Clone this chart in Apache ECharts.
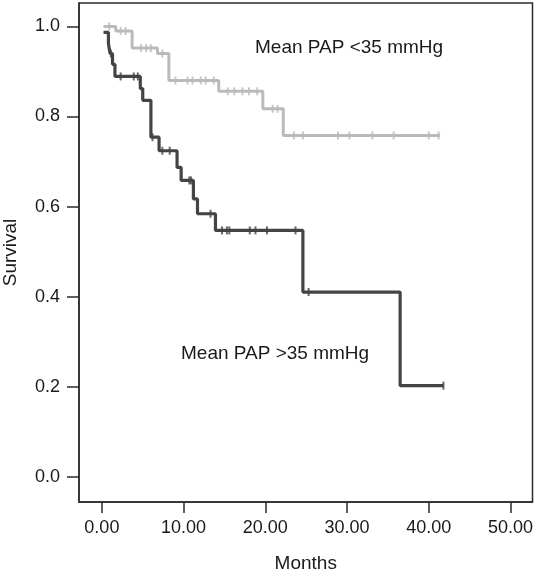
<!DOCTYPE html>
<html>
<head>
<meta charset="utf-8">
<script src="https://cdn.jsdelivr.net/npm/echarts@6/dist/echarts.min.js"></script>
<style>html,body{margin:0;padding:0;background:#fff;}#c{width:538px;height:575px;}</style>
</head>
<body>
<div id="c"></div>
<script>
// Kaplan-Meier data (months, survival)
const lowTimes = [0.2, 1.7, 3.7, 6.8, 8.2, 14.3, 19.7, 22.2, 41.4];
const lowSurv  = [1.000, 0.990, 0.952, 0.940, 0.880, 0.856, 0.817, 0.758, 0.758];
const lowCensor = [0.9, 2.3, 2.9, 4.8, 5.4, 6.0, 7.4, 9.0, 10.5, 11.1, 12.1, 12.7, 13.7, 15.4, 16.2, 17.2, 18.0, 19.0, 20.9, 21.5, 23.5, 24.6, 28.9, 30.3, 33.1, 35.7, 40.0, 41.2];

const highTimes = [0.2, 0.8, 1.0, 1.3, 1.6, 4.7, 5.0, 6.0, 7.0, 9.2, 9.7, 11.2, 11.7, 13.9, 24.6, 36.5, 41.8];
const highSurv  = [0.987, 0.962, 0.940, 0.916, 0.889, 0.862, 0.836, 0.754, 0.724, 0.687, 0.658, 0.617, 0.584, 0.547, 0.410, 0.202, 0.202];
const highCensor = [1.1, 2.3, 3.9, 4.4, 6.2, 7.4, 8.3, 10.7, 10.9, 13.3, 14.7, 15.3, 15.6, 18.1, 18.8, 20.2, 23.7, 25.3, 41.8];

const xTicks = [0, 10, 20, 30, 40, 50];
const yTicks = [0, 0.2, 0.4, 0.6, 0.8, 1.0];

const lowLabel = 'Mean PAP <35 mmHg';
const highLabel = 'Mean PAP >35 mmHg';

function stepAt(times, surv, t) {
  let s = surv[0];
  for (let i = 0; i < times.length; i++) { if (times[i] <= t) s = surv[i]; }
  return s;
}
const zip = (a, b) => a.map((v, i) => [v, b[i]]);
const censorPts = (c, times, surv) => c.map(t => [t, stepAt(times, surv, t)]);

const DARK = '#444444', LIGHT = '#bababa';
const FONT = '"Liberation Sans", Arial, Helvetica, sans-serif';

const chart = echarts.init(document.getElementById('c'), null, {renderer: 'canvas'});
chart.setOption({
  animation: false,
  backgroundColor: '#fff',
  grid: {left: 79, top: 3, right: 5.5, bottom: 73, containLabel: false, outerBoundsMode: 'none',
         show: true, borderColor: '#2b2b2b', borderWidth: 1.5, backgroundColor: 'transparent'},
  xAxis: {
    type: 'value', min: -2.8, max: 52.7,
    name: 'Months', nameLocation: 'middle', nameGap: 52,
    nameTextStyle: {fontFamily: FONT, fontSize: 19, color: '#1a1a1a'},
    axisLine: {show: true, onZero: false, lineStyle: {color: '#2b2b2b', width: 1.5}},
    axisTick: {show: true, inside: false, length: 11, customValues: xTicks, lineStyle: {color: '#2b2b2b', width: 1.5}},
    axisLabel: {customValues: xTicks, margin: 17, fontFamily: FONT, fontSize: 18, color: '#1a1a1a', formatter: v => v.toFixed(2)},
    splitLine: {show: false}
  },
  yAxis: {
    type: 'value', min: -0.0564, max: 1.0522,
    name: 'Survival', nameLocation: 'middle', nameGap: 59,
    nameTextStyle: {fontFamily: FONT, fontSize: 19, color: '#1a1a1a'},
    axisLine: {show: true, onZero: false, lineStyle: {color: '#2b2b2b', width: 1.5}},
    axisTick: {show: true, inside: false, length: 12, customValues: yTicks, lineStyle: {color: '#2b2b2b', width: 1.5}},
    axisLabel: {customValues: yTicks, margin: 19, fontFamily: FONT, fontSize: 18, color: '#1a1a1a', formatter: v => v.toFixed(1)},
    splitLine: {show: false}
  },
  series: [
    {name: lowLabel, type: 'line', step: 'end', data: zip(lowTimes, lowSurv), showSymbol: false, lineStyle: {color: LIGHT, width: 3}, z: 2},
    {name: highLabel, type: 'line', step: 'end', data: zip(highTimes, highSurv), showSymbol: false, lineStyle: {color: DARK, width: 3.2}, z: 3},
    {type: 'scatter', data: censorPts(lowCensor, lowTimes, lowSurv), symbol: 'rect', symbolSize: [2, 8], itemStyle: {color: LIGHT}, z: 4},
    {type: 'scatter', data: censorPts(highCensor, highTimes, highSurv), symbol: 'rect', symbolSize: [2, 8], itemStyle: {color: DARK}, z: 5}
  ],
  graphic: [
    {type: 'text', style: {text: lowLabel, x: 255, y: 48, verticalAlign: 'middle', font: '19px ' + FONT, fill: '#1a1a1a'}},
    {type: 'text', style: {text: highLabel, x: 181, y: 354, verticalAlign: 'middle', font: '19px ' + FONT, fill: '#1a1a1a'}}
  ]
});
</script>
</body>
</html>
